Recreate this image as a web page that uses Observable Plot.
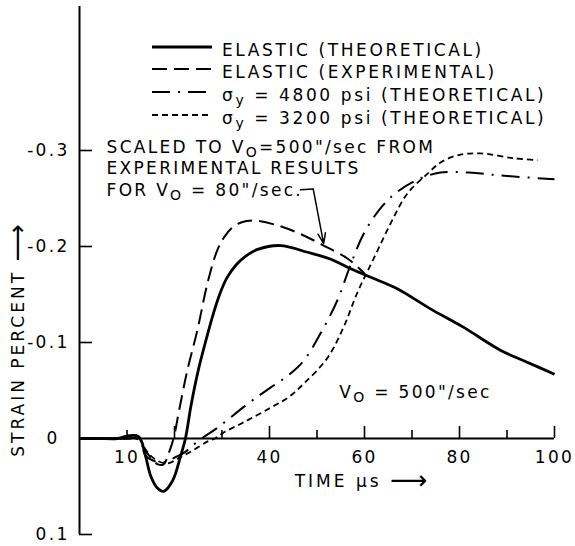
<!DOCTYPE html>
<html>
<head>
<meta charset="utf-8">
<script src="https://cdn.jsdelivr.net/npm/d3@7"></script>
<script src="https://cdn.jsdelivr.net/npm/@observablehq/plot@0.6"></script>
<style>
  html, body { margin: 0; padding: 0; background: #fff; }
  #wrap { position: relative; width: 575px; height: 546px; }
  #wrap svg.overlay { position: absolute; left: 0; top: 0; pointer-events: none; }
</style>
</head>
<body>
<div id="wrap"></div>
<script>
// ---------- axes ----------
const xDomain = [0, 100];
const yDomain = [-0.45, 0.1];
const xMajorTicks = [20, 40, 60, 80, 100];
const xMinorTicks = [10, 30, 50, 70, 90];
const xLabelTicks = [10, 40, 60, 80, 100];
const yTicks = [-0.3, -0.2, -0.1, 0.1];
const yTickLabels = ["-0.3", "-0.2", "-0.1", "0.1"];
const yZeroLabel = "0";
const xTitle = "TIME \u03BCs \u27F6";
const yTitle = "STRAIN PERCENT \u27F6";

// ---------- series: ELASTIC (THEORETICAL) ----------
const timeElasticTheo   = [0, 4, 8, 9.5, 10.5, 12, 12.8, 13.9, 15, 16.3, 17.7, 19.6, 21.3, 22.3, 23.5, 25, 26.5, 28, 29.5, 31, 33, 35, 37.5, 42.3, 48, 52.8, 57, 61.3, 66.9, 73.9, 80.8, 88.6, 94, 100];
const strainElasticTheo = [0, 0, 0, -0.002, -0.003, -0.003, 0, 0.018, 0.039, 0.051, 0.055, 0.044, 0.018, 0, -0.035, -0.071, -0.1, -0.127, -0.15, -0.167, -0.181, -0.19, -0.197, -0.201, -0.194, -0.187, -0.177, -0.168, -0.156, -0.135, -0.116, -0.092, -0.08, -0.067];

// ---------- series: ELASTIC (EXPERIMENTAL) ----------
const timeElasticExp   = [0, 5, 10, 12, 13.5, 15, 16.5, 17.7, 18.8, 19.8, 21, 22.7, 24.8, 27, 29, 30.5, 32, 34, 36.6, 41.7, 46.5, 51.4, 56.4, 60];
const strainElasticExp = [0, 0, 0, 0, 0.01, 0.02, 0.027, 0.027, 0.015, 0, -0.03, -0.071, -0.1125, -0.163, -0.196, -0.21, -0.219, -0.225, -0.227, -0.222, -0.213, -0.201, -0.1875, -0.172];

// ---------- series: sigma_y = 4800 psi (THEORETICAL) ----------
const time4800   = [0, 5, 10, 12.5, 13.9, 15.5, 17, 18.5, 20, 22.3, 23.4, 26, 29, 35.4, 40.2, 44, 47.2, 50.7, 54.3, 57, 59.8, 63.4, 66.9, 71.8, 76, 82, 88.6, 100];
const strain4800 = [0, 0, 0, 0, 0.018, 0.023, 0.025, 0.024, 0.02, 0.014, 0.009, -0.001, -0.011, -0.036, -0.053, -0.066, -0.081, -0.109, -0.144, -0.18, -0.213, -0.24, -0.257, -0.271, -0.277, -0.277, -0.274, -0.27];

// ---------- series: sigma_y = 3200 psi (THEORETICAL) ----------
const time3200   = [0, 5, 10, 12.5, 14, 16, 18.5, 21, 24, 27, 28.5, 30.3, 35, 40.2, 44, 47.2, 52.2, 55.6, 58.5, 61.9, 65.5, 69, 73.3, 76, 79.6, 84.4, 91.4, 96.4];
const strain3200 = [0, 0, 0, 0, 0.012, 0.022, 0.026, 0.02, 0.012, 0.003, 0, -0.006, -0.018, -0.032, -0.043, -0.057, -0.084, -0.116, -0.152, -0.187, -0.224, -0.255, -0.276, -0.2875, -0.295, -0.297, -0.292, -0.29];

// ---------- legend & notes ----------
const legendLabels = [
  "ELASTIC (THEORETICAL)",
  "ELASTIC (EXPERIMENTAL)",
  "\u03C3_{y} = 4800 psi (THEORETICAL)",
  "\u03C3_{y} = 3200 psi (THEORETICAL)"
];
const noteScaled = "SCALED TO V_{O}=500\"/sec FROM\nEXPERIMENTAL RESULTS\nFOR V_{O} = 80\"/sec.";
const noteScaledAnchor = {time: 5.7, strain: -0.3135};
const noteVelocity = "V_{O} = 500\"/sec";
const noteVelocityAnchor = {time: 54.7, strain: -0.0552};
const noteArrowTime   = [46.5, 49.2, 51.4];
const noteArrowStrain = [-0.259, -0.26, -0.203];

// ---------- build ----------
const zip = (ts, vs) => ts.map((t, i) => ({time: t, strain: vs[i]}));
const series = [
  {data: zip(timeElasticTheo, strainElasticTheo), strokeWidth: 2.8, dash: null},
  {data: zip(timeElasticExp, strainElasticExp),   strokeWidth: 2.0, dash: "15,7"},
  {data: zip(time4800, strain4800),               strokeWidth: 2.0, dash: "18,8,2,8"},
  {data: zip(time3200, strain3200),               strokeWidth: 1.8, dash: "6,4"}
];

const W = 575, H = 546;
const margins = {marginLeft: 79, marginRight: 21, marginTop: 6, marginBottom: 12};
const FONT = "DejaVu Sans";
const FS = 17;
const LS = "2.3px";

const ys = Plot.scale({y: {type: "linear", domain: yDomain, range: [margins.marginTop, H - margins.marginBottom]}});
const axisShift = ys.apply(yDomain[1]) - ys.apply(0); // pixels from frame bottom up to strain 0

const arrowPts = zip(noteArrowTime, noteArrowStrain);

const chart = Plot.plot({
  width: W, height: H, ...margins,
  style: {fontFamily: FONT, fontSize: FS + "px", letterSpacing: LS, background: "#fff", color: "#000", overflow: "visible"},
  x: {domain: xDomain, axis: null},
  y: {domain: yDomain, range: [margins.marginTop, H - margins.marginBottom], axis: null},
  marks: [
    // axis lines
    Plot.ruleX([xDomain[0]], {x: d => d, y1: yDomain[0], y2: yDomain[1], stroke: "#000", strokeWidth: 2}),
    Plot.ruleY([0], {y: d => d, x1: xDomain[0], x2: xDomain[1], stroke: "#000", strokeWidth: 2}),
    // y ticks (inward) and labels
    Plot.axisY({ticks: yTicks, anchor: "left", tickSize: -13, tickPadding: 23, strokeWidth: 1.6,
      tickFormat: d => yTickLabels[yTicks.indexOf(d)], label: null, fontVariant: "normal"}),
    Plot.axisY({ticks: [0], anchor: "left", tickSize: 0, tickPadding: 20, tickFormat: () => yZeroLabel, label: null}),
    // x ticks pointing up from the strain = 0 line
    Plot.axisX({ticks: xMajorTicks, anchor: "bottom", tickSize: -12, dy: -axisShift, strokeWidth: 1.6, tickFormat: () => "", label: null}),
    Plot.axisX({ticks: xMinorTicks, anchor: "bottom", tickSize: -8, dy: -axisShift, strokeWidth: 1.6, tickFormat: () => "", label: null}),
    Plot.axisX({ticks: xLabelTicks, anchor: "bottom", tickSize: 0, tickPadding: 12, dy: -axisShift, label: null, fontVariant: "normal"}),
    // curves
    ...series.map(s => Plot.line(s.data, {x: "time", y: "strain", stroke: "#000", strokeWidth: s.strokeWidth,
      strokeDasharray: s.dash, curve: "catmull-rom", strokeLinecap: "butt"})),
    // annotation arrow
    Plot.line(arrowPts.slice(0, 2), {x: "time", y: "strain", stroke: "#000", strokeWidth: 1.5}),
    Plot.arrow([arrowPts], {x1: d => d[1].time, y1: d => d[1].strain, x2: d => d[2].time, y2: d => d[2].strain,
      stroke: "#000", strokeWidth: 1.5, headLength: 11, headAngle: 40}),
    // notes
    Plot.text([noteScaled], {x: () => noteScaledAnchor.time, y: () => noteScaledAnchor.strain, text: d => d,
      textAnchor: "start", lineAnchor: "top", lineHeight: 1.27, fill: "#000"}),
    Plot.text([noteVelocity], {x: () => noteVelocityAnchor.time, y: () => noteVelocityAnchor.strain, text: d => d,
      textAnchor: "start", lineAnchor: "top", fill: "#000"}),
    // axis titles
    Plot.text([xTitle], {frameAnchor: "bottom", text: d => d, dx: 44, dy: -53, textAnchor: "middle", lineAnchor: "middle", fill: "#000"}),
    Plot.text([yTitle], {frameAnchor: "left", text: d => d, dx: -61, dy: 70, rotate: -90, textAnchor: "middle", lineAnchor: "middle", fill: "#000"})
  ]
});

const NS = "http://www.w3.org/2000/svg";
// subscripts: "_{x}" -> lowered, smaller tspan
function applySubscripts(root) {
  root.querySelectorAll("text, tspan").forEach(node => {
    if (node.children.length) return;
    const s = node.textContent;
    if (!s.includes("_{")) return;
    const parts = s.split(/_\{([^}]*)\}/);
    node.textContent = "";
    parts.forEach((p, i) => {
      const t = document.createElementNS(NS, "tspan");
      t.textContent = p;
      if (i % 2 === 1) { t.setAttribute("dy", "4"); t.setAttribute("font-size", "14"); }
      else if (i > 0) { t.setAttribute("dy", "-4"); }
      node.appendChild(t);
    });
  });
}
applySubscripts(chart);

// axis titles: wider spacing and a longer arrow glyph
chart.querySelectorAll("text").forEach(node => {
  const s = node.textContent;
  if (s !== xTitle && s !== yTitle) return;
  node.style.letterSpacing = "3px";
  const [head] = s.split("\u27F6");
  node.textContent = "";
  const a = document.createElementNS(NS, "tspan"); a.textContent = head; node.appendChild(a);
  const b = document.createElementNS(NS, "tspan"); b.textContent = "\u27F6";
  b.setAttribute("font-size", "26"); b.setAttribute("dy", "2"); b.style.letterSpacing = "0px";
  node.appendChild(b);
});

const wrap = document.getElementById("wrap");
wrap.appendChild(chart);

// ---------- legend overlay ----------
const legendStyles = series.map(s => ({w: s.strokeWidth, dash: s.dash}));
const ov = d3.create("svg").attr("class", "overlay").attr("width", W).attr("height", H)
  .style("font-family", FONT).style("font-size", FS + "px").style("letter-spacing", "2.6px");
const rowLineY = [47, 69, 92, 115];
legendLabels.forEach((lab, i) => {
  ov.append("line").attr("x1", 152).attr("x2", 212).attr("y1", rowLineY[i]).attr("y2", rowLineY[i])
    .attr("stroke", "#000").attr("stroke-width", legendStyles[i].w)
    .attr("stroke-dasharray", legendStyles[i].dash);
  ov.append("text").attr("x", 222).attr("y", rowLineY[i] + 8.5).attr("fill", "#000").text(lab);
});
applySubscripts(ov.node());
wrap.appendChild(ov.node());
</script>
</body>
</html>
